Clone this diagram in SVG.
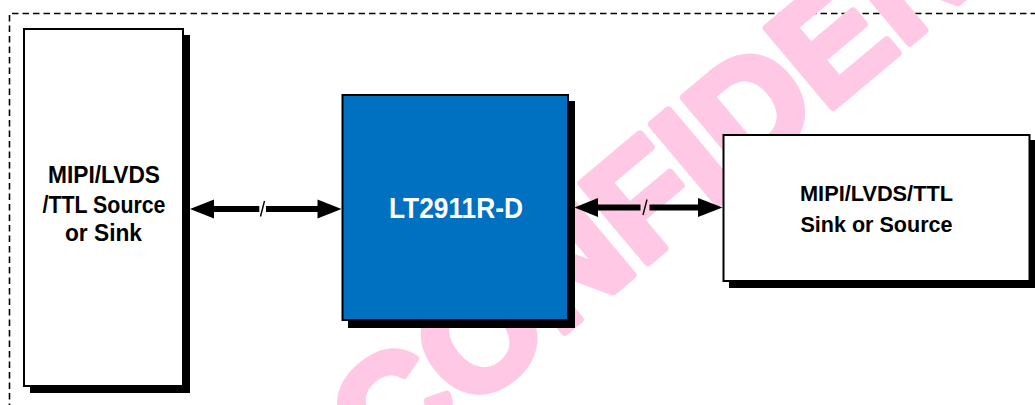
<svg xmlns="http://www.w3.org/2000/svg" width="1035" height="405" viewBox="0 0 1035 405">
  <style>
    .border { fill: none; stroke: #000; stroke-width: 1.6; stroke-dasharray: 6.5 4; }
    .shadow { fill: #000; }
    .box { fill: #fff; stroke: #000; stroke-width: 2; }
    .chip { fill: #0070C0; stroke: #000; stroke-width: 2; }
    .lbl { font-family: "Liberation Sans", Arial, sans-serif; font-weight: bold; fill: #000; text-anchor: middle; }
    .lblw { font-family: "Liberation Sans", Arial, sans-serif; font-weight: bold; fill: #fff; text-anchor: middle; }
    .wm { font-family: "Liberation Sans", Arial, sans-serif; font-weight: bold; fill: #FFC8E4; stroke: #FFC8E4; stroke-width: 8; stroke-linejoin: round; font-size: 150px; }
    .bus { stroke: #000; stroke-width: 6; fill: none; }
    .slash { stroke: #000; stroke-width: 1.4; fill: none; }
    .head { fill: #000; }
  </style>
  <rect width="1035" height="405" fill="#fff"/>
  <g id="frame">
    <path class="border" d="M9.5,410 V13.5 H1040"/>
  </g>
  <g id="watermark">
    <text class="wm" transform="translate(385,483) rotate(-40)">CONFIDENTIAL</text>
  </g>
  <g id="node-source">
    <rect class="shadow" x="30" y="35" width="160" height="358"/>
    <rect class="box" x="24" y="29" width="159" height="357"/>
    <text class="lbl" x="104" y="183" font-size="23" textLength="112" lengthAdjust="spacingAndGlyphs">MIPI/LVDS</text>
    <text class="lbl" x="104" y="212.5" font-size="23" textLength="123" lengthAdjust="spacingAndGlyphs">/TTL Source</text>
    <text class="lbl" x="103.5" y="240.5" font-size="23" textLength="77" lengthAdjust="spacingAndGlyphs">or Sink</text>
  </g>
  <g id="node-chip">
    <rect class="shadow" x="348" y="101" width="227" height="227"/>
    <rect class="chip" x="342.5" y="95" width="225.5" height="225"/>
    <text class="lblw" x="456" y="218.3" font-size="30" textLength="134" lengthAdjust="spacingAndGlyphs">LT2911R-D</text>
  </g>
  <g id="node-sink">
    <rect class="shadow" x="729" y="140" width="307" height="148"/>
    <rect class="box" x="723.5" y="135" width="306" height="146"/>
    <text class="lbl" x="876.5" y="201" font-size="22.5" textLength="153" lengthAdjust="spacingAndGlyphs">MIPI/LVDS/TTL</text>
    <text class="lbl" x="876.5" y="231.7" font-size="22.5" textLength="152" lengthAdjust="spacingAndGlyphs">Sink or Source</text>
  </g>
  <g id="connectors">
    <path class="bus" d="M210,209 H259.3 M266,209 H322"/>
    <polygon class="head" points="190,209 214,199.5 214,218.5"/>
    <polygon class="head" points="341.5,209 317.5,199.5 317.5,218.5"/>
    <path class="slash" d="M260.5,216.5 L264.5,201"/>
    <path class="bus" d="M593,207.5 H640.5 M649.5,207.5 H702"/>
    <polygon class="head" points="574.5,207.5 598,198 598,217"/>
    <polygon class="head" points="722.5,207.5 698,198 698,217"/>
    <path class="slash" d="M643,215 L647,199.5"/>
  </g>
</svg>
